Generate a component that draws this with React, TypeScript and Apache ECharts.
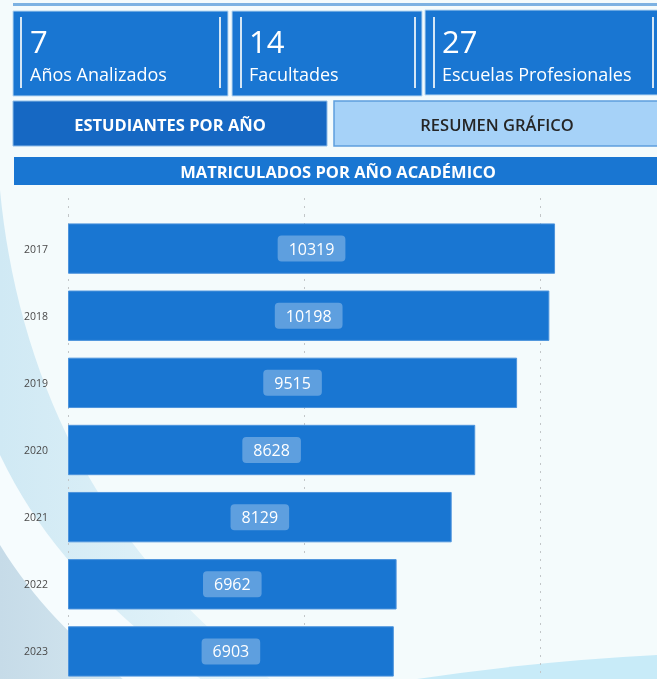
import React, { useEffect, useRef } from "react";
import * as echarts from "echarts";

const years = ["2017", "2018", "2019", "2020", "2021", "2022", "2023"];
const students = [10319, 10198, 9515, 8628, 8129, 6962, 6903];
const xTicks = { min: 0, max: 15000, interval: 5000 };
const cards = [
  { value: "7", label: "Años Analizados" },
  { value: "14", label: "Facultades" },
  { value: "27", label: "Escuelas Profesionales" },
];
const buttons = ["ESTUDIANTES POR AÑO", "RESUMEN GRÁFICO"];
const chartTitle = "MATRICULADOS POR AÑO ACADÉMICO";

let registered = false;
function registerShapes() {
  if (registered) return;
  registered = true;
  echarts.graphic.registerShape(
    "swooshA",
    echarts.graphic.extendPath("M0 190 C 20 400 120 580 300 700 L 0 700 Z", {})
  );
  echarts.graphic.registerShape(
    "swooshW",
    echarts.graphic.extendPath("M0 455 C 50 560 130 630 230 700 L 0 700 Z", {})
  );
  echarts.graphic.registerShape(
    "swooshC",
    echarts.graphic.extendPath("M0 545 C 40 610 90 655 150 700 L 0 700 Z", {})
  );
  echarts.graphic.registerShape(
    "swooshR",
    echarts.graphic.extendPath("M385 684 Q 520 662 657 655 L 800 648 L 800 700 L 385 700 Z", {})
  );
}

const FONT = "'Open Sans', 'Noto Sans', sans-serif";

export default function App() {
  const ref = useRef<HTMLDivElement>(null);
  useEffect(() => {
    if (!ref.current) return;
    registerShapes();
    const chart = echarts.init(ref.current, undefined, { renderer: "svg" });

    const cardRects = [
      { x: 13, y: 11, w: 215, l1: 20, l2: 219, tx: 30 },
      { x: 232, y: 11, w: 190, l1: 240, l2: 414, tx: 249 },
      { x: 425, y: 10, w: 240, l1: 433, l2: 652, tx: 442 },
    ];

    const graphics: any[] = [
      { type: "rect", shape: { x: 0, y: 0, width: 800, height: 700 }, style: { fill: "#f4fbfc" }, z: -30, silent: true },
      {
        type: "swooshA", x: 0, y: 0, z: -29, silent: true,
        style: {
          fill: { type: "linear", x: 0, y: 0, x2: 1, y2: 0, colorStops: [ { offset: 0, color: "#d0e9f4" }, { offset: 1, color: "#eaf7fb" } ] },
        },
      },
      { type: "swooshW", x: 0, y: 0, z: -28, silent: true, style: { fill: "#f6fcfe" } },
      {
        type: "swooshC", x: 0, y: 0, z: -27, silent: true,
        style: {
          fill: { type: "linear", x: 0, y: 0, x2: 1, y2: 0, colorStops: [ { offset: 0, color: "#c6dbe8" }, { offset: 1, color: "#d6e9f1" } ] },
        },
      },
      { type: "swooshR", x: 0, y: 0, z: -27, silent: true, style: { fill: "#c8ebf8" } },
      { type: "rect", shape: { x: 13, y: 3, width: 660, height: 3 }, style: { fill: "#7db2e2" }, z: 10 },
    ];

    cards.forEach((c, i) => {
      const r = cardRects[i];
      graphics.push(
        { type: "rect", shape: { x: r.x, y: r.y, width: r.w, height: 85 }, style: { fill: "#1976d2", stroke: "#b9d8f2", lineWidth: 1 }, z: 10 },
        { type: "rect", shape: { x: r.l1, y: 17, width: 2, height: 71 }, style: { fill: "#d3e6f6" }, z: 11 },
        { type: "rect", shape: { x: r.l2, y: 17, width: 2, height: 71 }, style: { fill: "#d3e6f6" }, z: 11 },
        {
          type: "text", x: r.tx, y: 56, z: 12,
          style: { text: c.value, fill: "#ffffff", font: `31px ${FONT}`, verticalAlign: "bottom" },
        },
        {
          type: "text", x: r.tx, y: 83, z: 12,
          style: { text: c.label, fill: "#ffffff", font: `18px ${FONT}`, verticalAlign: "bottom" },
        }
      );
    });

    graphics.push(
      { type: "rect", shape: { x: 13, y: 101, width: 314, height: 45 }, style: { fill: "#1668c3", stroke: "#8fbde8", lineWidth: 1 }, z: 10 },
      {
        type: "text", x: 170, y: 124, z: 12,
        style: { text: buttons[0], fill: "#ffffff", font: `bold 16.5px ${FONT}`, align: "center", verticalAlign: "middle" },
      },
      { type: "rect", shape: { x: 334, y: 101, width: 330, height: 45 }, style: { fill: "#a6d2f8", stroke: "#5d9fdd", lineWidth: 1.5 }, z: 10 },
      {
        type: "text", x: 497, y: 124, z: 12,
        style: { text: buttons[1], fill: "#252525", font: `600 16.5px ${FONT}`, align: "center", verticalAlign: "middle" },
      },
      { type: "rect", shape: { x: 14, y: 157, width: 660, height: 28 }, style: { fill: "#1976d2" }, z: 10 },
      {
        type: "text", x: 338, y: 171, z: 12,
        style: { text: chartTitle, fill: "#ffffff", font: `bold 16.5px ${FONT}`, align: "center", verticalAlign: "middle" },
      }
    );

    const splitLine = { show: true, lineStyle: { color: "#c2c6c8", type: [2, 6], width: 1 } };

    chart.setOption({
      animation: false,
      grid: [
        { left: 68, width: 708, top: 215, height: 470 },
        { left: 68, width: 708, top: 198, height: 17 },
      ],
      xAxis: [
        {
          gridIndex: 0, type: "value", ...xTicks,
          axisLabel: { show: false }, axisLine: { show: false }, axisTick: { show: false }, splitLine,
        },
        {
          gridIndex: 1, type: "value", ...xTicks,
          axisLabel: { show: false }, axisLine: { show: false }, axisTick: { show: false }, splitLine,
        },
      ],
      yAxis: [
        {
          gridIndex: 0, type: "category", data: years, inverse: true,
          axisLine: { show: false }, axisTick: { show: false },
          axisLabel: { color: "#4a4a4a", fontSize: 10.5, fontFamily: FONT, margin: 20 },
        },
        { gridIndex: 1, type: "value", min: 0, max: 1, show: false },
      ],
      graphic: graphics,
      series: [
        {
          type: "bar", xAxisIndex: 0, yAxisIndex: 0, data: students, barCategoryGap: "25%",
          itemStyle: { color: "#1976d2", borderColor: "#4c93dc", borderWidth: 1 },
          label: {
            show: true, position: "inside", color: "#ffffff", fontSize: 16, fontFamily: FONT,
            backgroundColor: "rgba(255,255,255,0.3)", padding: [5, 11], borderRadius: 4,
          },
        },
      ],
    });
    return () => chart.dispose();
  }, []);

  return (
    <div style={{ position: "fixed", left: 0, top: 0, width: 657, height: 679, overflow: "hidden" }}>
      <div ref={ref} style={{ width: 800, height: 700 }} />
    </div>
  );
}
